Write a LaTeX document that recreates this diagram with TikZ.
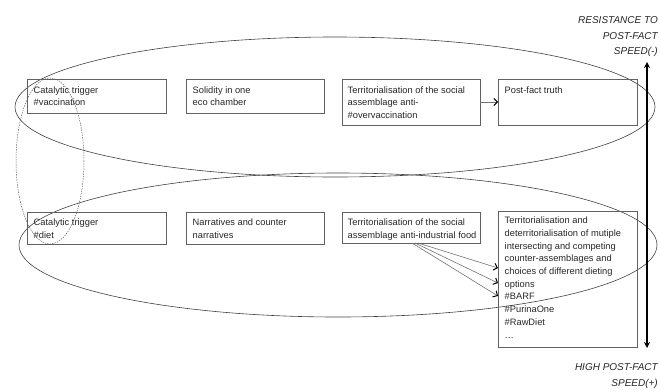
\documentclass[tikz,border=0pt]{standalone}
\usepackage{fontspec}
\setmainfont{Liberation Sans}
\usetikzlibrary{arrows.meta,calc}
\begin{document}
\begin{tikzpicture}[x=1pt,y=-1pt,
  boxst/.style={draw=black!62, line width=0.7pt, anchor=north west, inner sep=0pt, outer sep=0pt},
  txt/.style={anchor=north west, inner sep=0pt, align=left, text=black!85, font=\fontsize{9.3}{12.7}\selectfont},
  lab/.style={anchor=north east, inner sep=0pt, align=right, text=black!85, font=\fontsize{10}{15.5}\selectfont\itshape},
  ell/.style={draw=black!75, line width=0.6pt},
  dell/.style={draw=black!60, line width=0.5pt, dash pattern=on 1.5pt off 1pt},
  conn/.style={draw=black!55, line width=0.6pt, -{Straight Barb[length=3.5pt,width=7pt,line width=1pt,color=black]}},
  speed/.style={draw=black, line width=1.5pt, {Stealth[length=6pt,width=6pt]}-{Stealth[length=6pt,width=6pt]}},
]
\useasboundingbox (0,0) rectangle (660,391);

% ellipses
\draw[ell] (335,107) ellipse [x radius=320pt, y radius=70pt];
\draw[ell] (338,245) ellipse [x radius=319pt, y radius=72pt];
\draw[dell] (50,161) ellipse [x radius=34pt, y radius=83pt];

% boxes row 1
\node[boxst, minimum width=139pt, minimum height=34pt] (A) at (27,79) {};
\node[boxst, minimum width=138pt, minimum height=34pt] (B) at (186,79) {};
\node[boxst, minimum width=138pt, minimum height=46pt] (C) at (342,79) {};
\node[boxst, minimum width=139pt, minimum height=46pt] (D) at (498,79) {};
% boxes row 2
\node[boxst, minimum width=139pt, minimum height=32pt] (E) at (27,212) {};
\node[boxst, minimum width=138pt, minimum height=32pt] (F) at (186,212) {};
\node[boxst, minimum width=138pt, minimum height=31pt] (G) at (342,212) {};
\node[boxst, minimum width=139pt, minimum height=136pt] (H) at (498,211) {};

% texts
\node[txt] (At) at ([shift={(6.5,7.3)}]A.north west) {Catalytic trigger\\\#vaccination};
\node[txt] (Bt) at ([shift={(6.5,7.3)}]B.north west) {Solidity in one\\eco chamber};
\node[txt] (Ct) at ([shift={(5.5,7.3)}]C.north west) {Territorialisation of the social\\assemblage anti-\\\#overvaccination};
\node[txt] (Dt) at ([shift={(6.5,7.3)}]D.north west) {Post-fact truth};
\node[txt] (Et) at ([shift={(6.5,6.8)}]E.north west) {Catalytic trigger\\\#diet};
\node[txt] (Ft) at ([shift={(6.5,6.8)}]F.north west) {Narratives and counter\\narratives};
\node[txt] (Gt) at ([shift={(5.5,6.8)}]G.north west) {Territorialisation of the social\\assemblage anti-industrial food};
\node[txt] (Ht) at ([shift={(6.5,5.8)}]H.north west) {Territorialisation and\\deterritorialisation of mutiple\\intersecting and competing\\counter-assemblages and\\choices of different dieting\\options\\\#BARF\\\#PurinaOne\\\#RawDiet\\…};

% connectors
\draw[conn] (C.east) -- (D.west);
\coordinate (g1) at ($(G.south west)+(76,0)$);
\coordinate (g2) at ($(G.south west)+(73,0)$);
\coordinate (g3) at ($(G.south west)+(70,0)$);
\coordinate (h1) at ($(H.north west)+(0,57)$);
\coordinate (h2) at ($(H.north west)+(0,72)$);
\coordinate (h3) at ($(H.north west)+(0,85)$);
\draw[conn] (g1) -- (h1);
\draw[conn] (g2) -- (h2);
\draw[conn] (g3) -- (h3);

% speed axis
\coordinate (vt) at (647,62);
\coordinate (vb) at (647,348);
\draw[speed] (vt) -- (vb);
\node[lab] (toplab) at (658,16.8) {RESISTANCE TO\\POST-FACT\\SPEED(-)};
\node[lab] (botlab) at (658,363.8) {HIGH POST-FACT\\SPEED(+)};
\end{tikzpicture}
\end{document}
